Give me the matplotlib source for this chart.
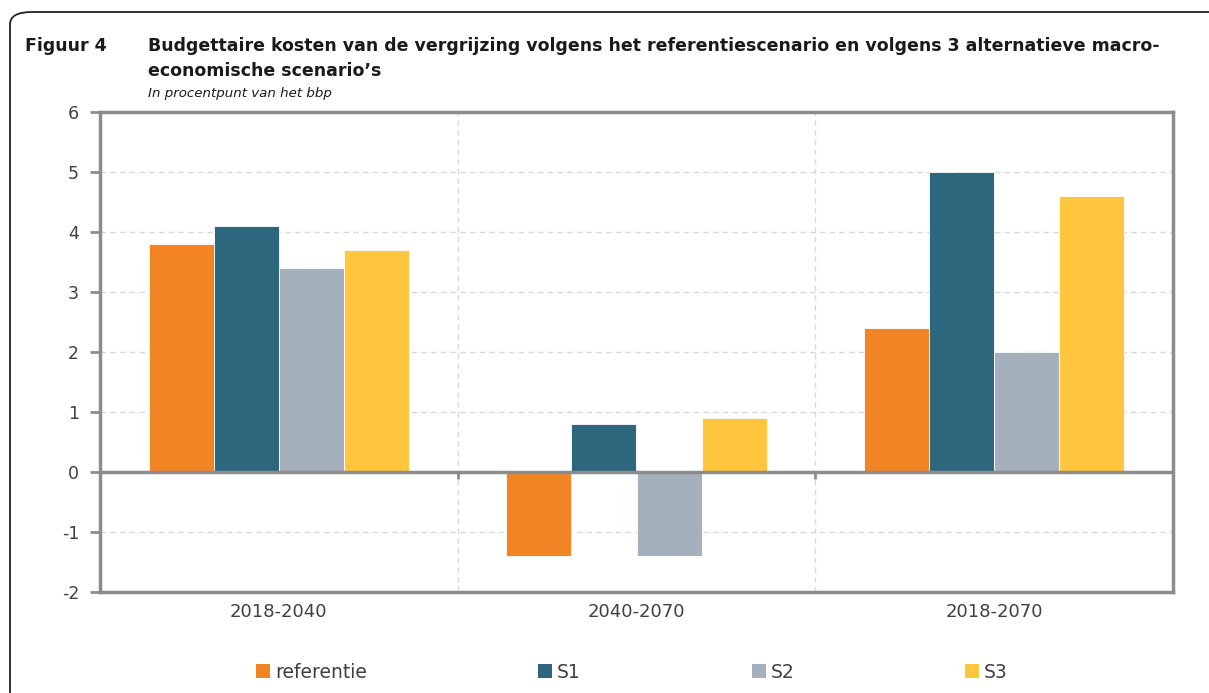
import matplotlib
matplotlib.use("Agg")
import matplotlib.pyplot as plt
import numpy as np
from matplotlib.patches import FancyBboxPatch, Patch

categories = ["2018-2040", "2040-2070", "2018-2070"]
series_names = ["referentie", "S1", "S2", "S3"]
referentie = [3.8, -1.4, 2.4]
s1 = [4.1, 0.8, 5.0]
s2 = [3.4, -1.4, 2.0]
s3 = [3.7, 0.9, 4.6]
y_ticks = [-2, -1, 0, 1, 2, 3, 4, 5, 6]
colors = ["#F38423", "#2D677D", "#A5B0BD", "#FEC53D"]

plt.rcParams['axes.unicode_minus'] = False
plt.rcParams['font.family'] = ['DejaVu Sans']

W, H = 1209, 693
fig = plt.figure(figsize=(W / 100, H / 100), dpi=100)

def fx(px):
    return px / W

def fy(py):
    return 1 - py / H

# rounded frame
frame = FancyBboxPatch((fx(10), fy(720)), fx(1240) - fx(10), fy(12) - fy(720),
                       boxstyle="round,pad=0,rounding_size=0.018",
                       transform=fig.transFigure, facecolor="none",
                       edgecolor="#222222", linewidth=1.3, clip_on=False)
fig.patches.append(frame)

fig.text(fx(25), fy(51), "Figuur 4", fontsize=12.5, fontweight="bold", color="#1a1a1a")
fig.text(fx(148), fy(51), "Budgettaire kosten van de vergrijzing volgens het referentiescenario en volgens 3 alternatieve macro-",
         fontsize=12.5, fontweight="bold", color="#1a1a1a")
fig.text(fx(148), fy(76), "economische scenario\u2019s", fontsize=12.5, fontweight="bold", color="#1a1a1a")
fig.text(fx(148), fy(97), "In procentpunt van het bbp", fontsize=9.6, style="italic", color="#1a1a1a")

ax = fig.add_axes([fx(100), fy(592), fx(1173) - fx(100), fy(112) - fy(592)])

data = [referentie, s1, s2, s3]
x = np.arange(len(categories))
bw = 0.182
for i, (vals, c, name) in enumerate(zip(data, colors, series_names)):
    ax.bar(x + (i - 1.5) * bw, vals, width=bw, color=c, edgecolor="white",
           linewidth=0.6, label=name, zorder=3)

ax.set_xlim(-0.5, 2.5)
ax.set_ylim(-2, 6)
ax.set_yticks(y_ticks)
ax.set_yticklabels([str(t) for t in y_ticks])
ax.set_xticks(x)
ax.set_xticklabels(categories)

for yv in y_ticks:
    if yv not in (-2, 0, 6):
        ax.axhline(yv, color="#d9d9d9", linestyle=(0, (4, 3)), linewidth=1.0, zorder=1)
for xb in [0.5, 1.5]:
    ax.axvline(xb, color="#d9d9d9", linestyle=(0, (4, 3)), linewidth=1.0, zorder=1)

ax.axhline(0, color="#8c8c8c", linewidth=2.5, zorder=4)
ax.vlines([0.5, 1.5], -0.12, 0, color="#8c8c8c", linewidth=2.0, zorder=4)

for sp in ax.spines.values():
    sp.set_color("#8c8c8c")
    sp.set_linewidth(2.5)

ax.tick_params(axis="y", length=7, width=2, color="#8c8c8c", labelsize=12.5,
               labelcolor="#404040", pad=8)
ax.tick_params(axis="x", length=0, labelsize=13, labelcolor="#404040", pad=8)

handles = [Patch(facecolor=c, edgecolor="none") for c in colors]
fig.legend(handles, series_names, loc="center", bbox_to_anchor=(fx(632), fy(672)),
           ncol=4, frameon=False, fontsize=13.5, handlelength=0.75, handleheight=0.75,
           handletextpad=0.25, columnspacing=9.13, labelcolor="#404040")

fig.savefig("out.png", dpi=100)
